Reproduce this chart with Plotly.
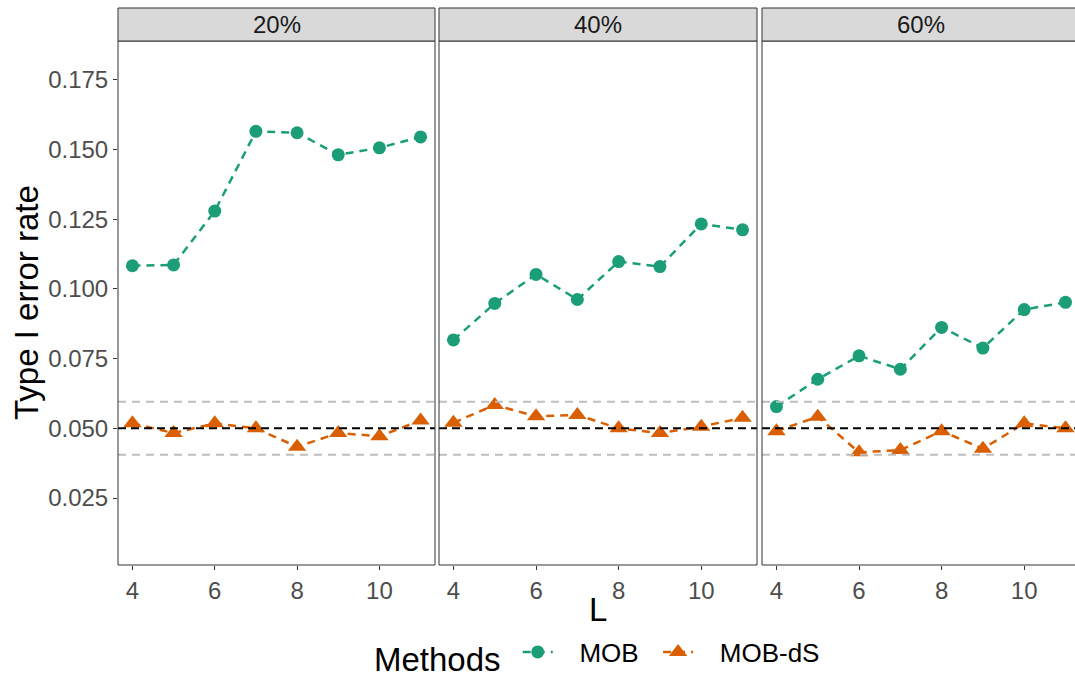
import plotly.graph_objects as go

# ---- data ----
L_values = [4, 5, 6, 7, 8, 9, 10, 11]
panels = ["20%", "40%", "60%"]

mob_20 = [0.1083, 0.1086, 0.1279, 0.1565, 0.1560, 0.1481, 0.1506, 0.1545]
mob_40 = [0.0817, 0.0948, 0.1052, 0.0962, 0.1098, 0.1080, 0.1233, 0.1212]
mob_60 = [0.0578, 0.0676, 0.0760, 0.0712, 0.0862, 0.0788, 0.0926, 0.0952]

mobds_20 = [0.0518, 0.0483, 0.0518, 0.0500, 0.0434, 0.0483, 0.0472, 0.0528]
mobds_40 = [0.0520, 0.0584, 0.0543, 0.0548, 0.0500, 0.0483, 0.0506, 0.0538]
mobds_60 = [0.0490, 0.0542, 0.0414, 0.0422, 0.0490, 0.0427, 0.0518, 0.0500]

nominal_level = 0.05
band_levels = [0.0405, 0.0595]

y_ticks = [0.025, 0.050, 0.075, 0.100, 0.125, 0.150, 0.175]
x_ticks = [4, 6, 8, 10]

methods = ["MOB", "MOB-dS"]
colors = {"MOB": "#1B9E77", "MOB-dS": "#D95F02"}
symbols = {"MOB": "circle", "MOB-dS": "triangle-up"}
msizes = {"MOB": 13, "MOB-dS": 16}
series = {"MOB": [mob_20, mob_40, mob_60], "MOB-dS": [mobds_20, mobds_40, mobds_60]}

# ---- layout geometry ----
W, H = 1075, 678
ML = 118
plot_w = W - ML
px = lambda p: (p - ML) / plot_w
domains = [[0.0, px(435)], [px(439), px(757)], [px(762), 1.0]]
y_dom = [(H - 565) / H, (H - 41) / H]
strip = [(H - 41) / H, (H - 8) / H]
x_ranges = [[3.65, 11.35], [3.65, 11.35], [3.65, 11.23]]
y_range = [0.001, 0.1889]

FONT = "Liberation Sans, Arial, sans-serif"
NB = "\u00a0"
legend_names = {"MOB": NB * 3 + "MOB" + NB * 2, "MOB-dS": NB * 3 + "MOB-dS"}
fig = go.Figure()

for i in range(3):
    xa = "x" if i == 0 else f"x{i+1}"
    ya = "y" if i == 0 else f"y{i+1}"
    # reference lines
    for lvl in band_levels:
        fig.add_shape(type="line", xref=f"{xa} domain", yref=ya, x0=0, x1=1,
                      y0=lvl, y1=lvl, line=dict(color="#BEBEBE", width=2, dash="8px,6px"))
    fig.add_shape(type="line", xref=f"{xa} domain", yref=ya, x0=0, x1=1,
                  y0=nominal_level, y1=nominal_level,
                  line=dict(color="#000000", width=2, dash="8px,5px"))
    for m in methods:
        fig.add_trace(go.Scatter(
            x=L_values, y=series[m][i], xaxis=xa, yaxis=ya, name=legend_names[m],
            legendgroup=m, showlegend=(i == 0), mode="lines+markers",
            line=dict(color=colors[m], width=2.5, dash="8px,6px"),
            marker=dict(color=colors[m], symbol=symbols[m], size=msizes[m]),
        ))
    # panel border
    fig.add_shape(type="rect", xref=f"{xa} domain", yref="paper",
                  x0=0, x1=1.02 if i == 2 else 1, y0=y_dom[0], y1=y_dom[1],
                  line=dict(color="#333333", width=1), fillcolor="rgba(0,0,0,0)", layer="above")
    # facet strip
    fig.add_shape(type="rect", xref=f"{xa} domain", yref="paper",
                  x0=0, x1=1.02 if i == 2 else 1, y0=strip[0], y1=strip[1],
                  line=dict(color="#333333", width=1), fillcolor="#D9D9D9")
    fig.add_annotation(text=panels[i], xref="paper", yref="paper",
                       x=(domains[i][0] + (px(1079) if i == 2 else domains[i][1])) / 2,
                       y=(strip[0] + strip[1]) / 2, xanchor="center", yanchor="middle",
                       showarrow=False, font=dict(family=FONT, size=24, color="#1A1A1A"))

axis_common = dict(showgrid=False, zeroline=False, showline=False, ticks="outside",
                   ticklen=4, tickwidth=1, tickcolor="#333333",
                   tickfont=dict(family=FONT, size=24, color="#4D4D4D"))
layout_axes = {}
for i in range(3):
    sfx = "" if i == 0 else str(i + 1)
    layout_axes[f"xaxis{sfx}"] = dict(domain=domains[i], range=x_ranges[i], tickvals=x_ticks,
                                      anchor="y" + sfx, **axis_common)
    yax = dict(domain=y_dom, range=y_range, tickvals=y_ticks, tickformat=".3f",
               anchor="x" + sfx, **axis_common)
    if i > 0:
        yax.update(showticklabels=False, ticks="", matches="y")
    layout_axes[f"yaxis{sfx}"] = yax

fig.update_layout(
    width=W, height=H,
    margin=dict(l=ML, r=0, t=0, b=0, autoexpand=False),
    paper_bgcolor="white", plot_bgcolor="white",
    font=dict(family=FONT),
    showlegend=True,
    legend=dict(orientation="h", x=px(372), xanchor="left", y=(H - 655) / H, yanchor="middle",
                font=dict(family=FONT, size=26, color="#000000"),
                title=dict(text="Methods" + NB, side="left",
                           font=dict(family=FONT, size=33, color="#000000")),
                bgcolor="rgba(0,0,0,0)"),
    **layout_axes,
)

fig.add_annotation(text="L", xref="paper", yref="paper", x=px(598), y=(H - 609) / H,
                   xanchor="center", yanchor="middle",
                   showarrow=False, font=dict(family=FONT, size=33, color="#000000"))
fig.add_annotation(text="Type I error rate", xref="paper", yref="paper", x=px(26),
                   y=(y_dom[0] + y_dom[1]) / 2, xanchor="center", yanchor="middle",
                   textangle=-90, showarrow=False,
                   font=dict(family=FONT, size=33, color="#000000"))

fig.write_html("out.html")
